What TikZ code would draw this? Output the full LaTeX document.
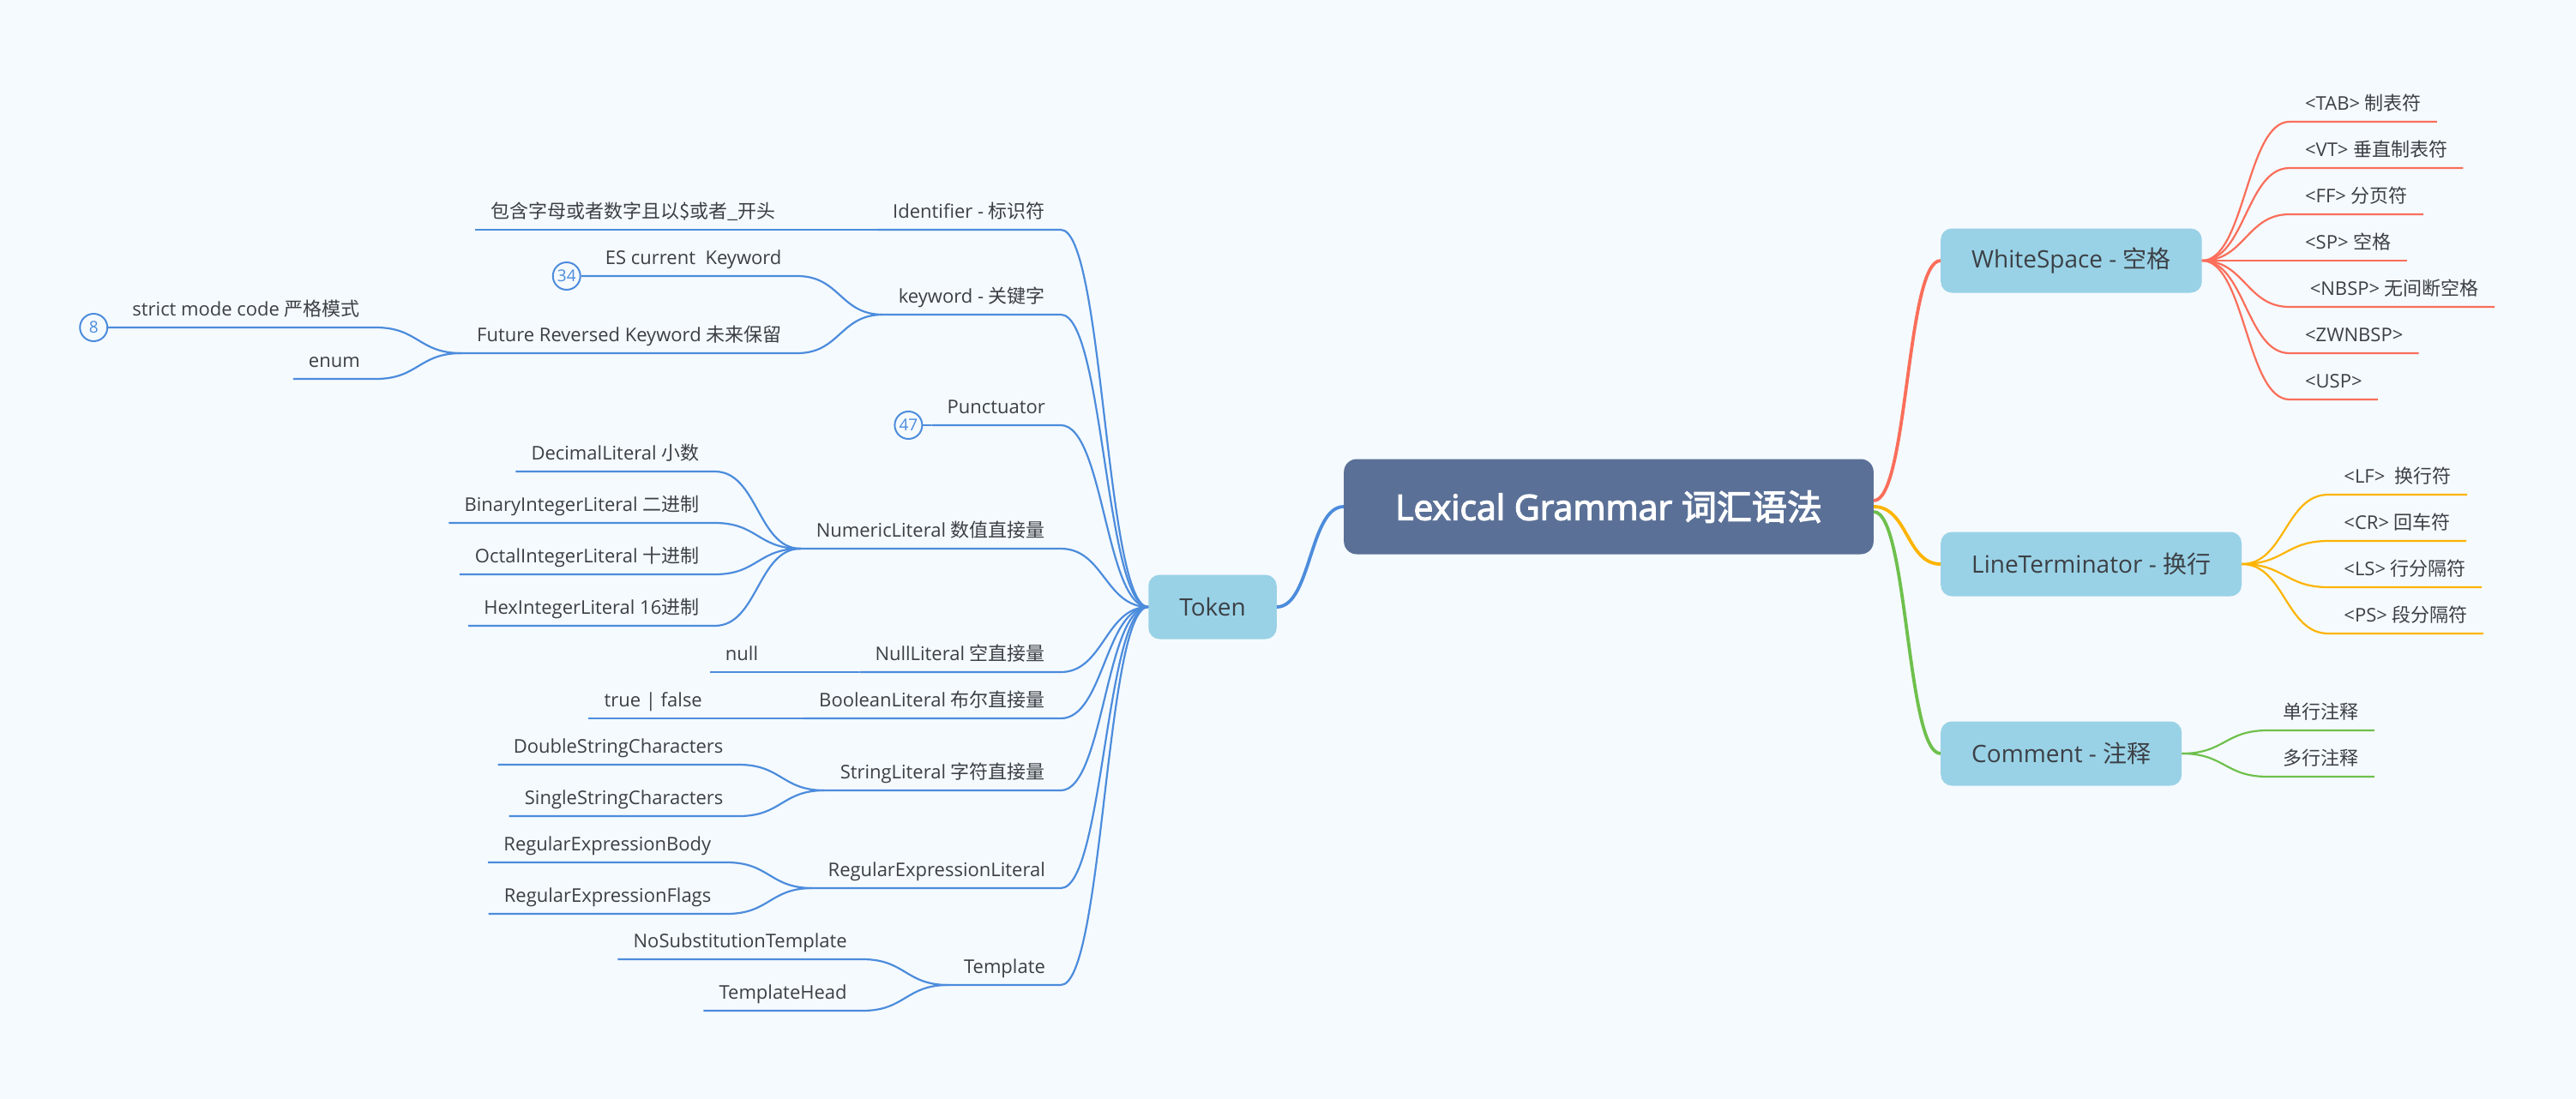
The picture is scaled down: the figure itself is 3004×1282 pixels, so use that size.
\documentclass[tikz,border=0pt]{standalone}
\usepackage{fontspec}
\setmainfont{Open Sans}
\newfontfamily\cjk{Noto Sans CJK SC}
\newfontfamily\rootsans[FakeBold=3]{Open Sans}
\newfontfamily\rootcjk[FakeBold=3]{Noto Sans CJK SC}
\usepackage{tikz}

\definecolor{bgBlue}{RGB}{245, 250, 254}
\definecolor{rootFill}{RGB}{90, 112, 151}
\definecolor{topicFill}{RGB}{153, 210, 230}
\definecolor{inkGray}{RGB}{60, 64, 70}
\definecolor{linkBlue}{RGB}{76, 140, 220}
\definecolor{linkRed}{RGB}{250, 110, 90}
\definecolor{linkOrange}{RGB}{253, 180, 0}
\definecolor{linkGreen}{RGB}{110, 192, 76}

\newcommand{\hanzi}[1]{{\cjk #1}}
\newcommand{\rootfont}{\fontsize{41}{49}\selectfont}
\newcommand{\topicfont}{\fontsize{28}{34}\selectfont}
\newcommand{\leaffont}{\fontsize{22}{26}\selectfont}
\newcommand{\badgefont}{\fontsize{19}{22}\selectfont}

\tikzstyle{rootbox} = [rectangle, rounded corners=15pt, fill=rootFill, text=white, font=\rootfont\rootsans, inner xsep=60pt, minimum height=111pt]
\tikzstyle{topicbox} = [rectangle, rounded corners=13pt, fill=topicFill, text=inkGray, font=\topicfont, inner xsep=36pt, minimum height=75pt]
\tikzstyle{leafnode} = [font=\leaffont, text=inkGray, inner xsep=18pt, inner ysep=8pt, text height=17pt, text depth=5pt]
\tikzstyle{badge} = [circle, draw=linkBlue, line width=2pt, fill=bgBlue, text=linkBlue, font=\badgefont, minimum size=32pt, inner sep=0pt]
\tikzstyle{mainlink} = [line width=3.8pt]
\tikzstyle{bluelink} = [linkBlue, line width=2.2pt]
\tikzstyle{redlink} = [linkRed, line width=2.2pt]
\tikzstyle{orangelink} = [linkOrange, line width=2.2pt]
\tikzstyle{greenlink} = [linkGreen, line width=2.2pt]

\begin{document}
\begin{tikzpicture}[x=1pt, y=1pt]

\useasboundingbox (0,0) rectangle (3004,-1282);
\fill [bgBlue] (0,0) rectangle (3004,-1282);

\node (lexical) [rootbox] at (1876,-591) {Lexical Grammar {\rootcjk 词汇语法}};

\node (token) [topicbox] at (1414,-708) {Token};
\node (ws) [topicbox, anchor=west] at (2263,-304) {WhiteSpace - \hanzi{空格}};
\node (lt) [topicbox, anchor=west] at (2263,-658) {LineTerminator - \hanzi{换行}};
\node (cm) [topicbox, anchor=west] at (2263,-879) {Comment - \hanzi{注释}};

\draw [mainlink, linkBlue] (lexical.west) .. controls +(-40,0) and +(40,0) .. (token.east);
\draw [mainlink, linkRed] ([yshift=7pt]lexical.east) .. controls +(40,0) and +(-40,0) .. (ws.west);
\draw [mainlink, linkOrange] (lexical.east) .. controls +(40,0) and +(-40,0) .. (lt.west);
\draw [mainlink, linkGreen] ([yshift=-6pt]lexical.east) .. controls +(40,0) and +(-40,0) .. (cm.west);

% WhiteSpace
\node (tab) [leafnode, anchor=south west, xshift=102pt, yshift=162pt] at (ws.east) {<TAB> \hanzi{制表符}};
\node (vt) [leafnode, anchor=south west, xshift=102pt, yshift=108pt] at (ws.east) {<VT> \hanzi{垂直制表符}};
\node (ff) [leafnode, anchor=south west, xshift=102pt, yshift=54pt] at (ws.east) {<FF> \hanzi{分页符}};
\node (sp) [leafnode, anchor=south west, xshift=102pt] at (ws.east) {<SP> \hanzi{空格}};
\node (nbsp) [leafnode, anchor=south west, xshift=102pt, yshift=-54pt] at (ws.east) {~<NBSP> \hanzi{无间断空格}};
\node (zwnbsp) [leafnode, anchor=south west, xshift=102pt, yshift=-108pt] at (ws.east) {<ZWNBSP>};
\node (usp) [leafnode, anchor=south west, xshift=102pt, yshift=-162pt] at (ws.east) {<USP>};

\draw [redlink] (ws.east) .. controls +(50,0) and +(-50,0) .. (tab.south west) -- (tab.south east);
\draw [redlink] (ws.east) .. controls +(50,0) and +(-50,0) .. (vt.south west) -- (vt.south east);
\draw [redlink] (ws.east) .. controls +(50,0) and +(-50,0) .. (ff.south west) -- (ff.south east);
\draw [redlink] (ws.east) -- (sp.south west) -- (sp.south east);
\draw [redlink] (ws.east) .. controls +(50,0) and +(-50,0) .. (nbsp.south west) -- (nbsp.south east);
\draw [redlink] (ws.east) .. controls +(50,0) and +(-50,0) .. (zwnbsp.south west) -- (zwnbsp.south east);
\draw [redlink] (ws.east) .. controls +(50,0) and +(-50,0) .. (usp.south west) -- (usp.south east);

% LineTerminator
\node (lf) [leafnode, anchor=south west, xshift=101pt, yshift=81pt] at (lt.east) {<LF>\ \ \hanzi{换行符}};
\node (cr) [leafnode, anchor=south west, xshift=101pt, yshift=27pt] at (lt.east) {<CR> \hanzi{回车符}};
\node (ls) [leafnode, anchor=south west, xshift=101pt, yshift=-27pt] at (lt.east) {<LS> \hanzi{行分隔符}};
\node (ps) [leafnode, anchor=south west, xshift=101pt, yshift=-81pt] at (lt.east) {<PS> \hanzi{段分隔符}};

\draw [orangelink] (lt.east) .. controls +(50,0) and +(-50,0) .. (lf.south west) -- (lf.south east);
\draw [orangelink] (lt.east) .. controls +(50,0) and +(-50,0) .. (cr.south west) -- (cr.south east);
\draw [orangelink] (lt.east) .. controls +(50,0) and +(-50,0) .. (ls.south west) -- (ls.south east);
\draw [orangelink] (lt.east) .. controls +(50,0) and +(-50,0) .. (ps.south west) -- (ps.south east);

% Comment
\node (single) [leafnode, anchor=south west, xshift=100pt, yshift=27pt] at (cm.east) {\hanzi{单行注释}};
\node (multi) [leafnode, anchor=south west, xshift=100pt, yshift=-27pt] at (cm.east) {\hanzi{多行注释}};

\draw [greenlink] (cm.east) .. controls +(50,0) and +(-50,0) .. (single.south west) -- (single.south east);
\draw [greenlink] (cm.east) .. controls +(50,0) and +(-50,0) .. (multi.south west) -- (multi.south east);

% Token
\node (ident) [leafnode, anchor=south east, xshift=-102pt, yshift=440pt] at (token.west) {Identifier - \hanzi{标识符}};
\node (kw) [leafnode, anchor=south east, xshift=-102pt, yshift=341pt] at (token.west) {keyword - \hanzi{关键字}};
\node (punct) [leafnode, anchor=south east, xshift=-102pt, yshift=212pt] at (token.west) {Punctuator};
\node (numeric) [leafnode, anchor=south east, xshift=-102pt, yshift=68pt] at (token.west) {NumericLiteral \hanzi{数值直接量}};
\node (nulllit) [leafnode, anchor=south east, xshift=-102pt, yshift=-76pt] at (token.west) {NullLiteral \hanzi{空直接量}};
\node (boollit) [leafnode, anchor=south east, xshift=-102pt, yshift=-130pt] at (token.west) {BooleanLiteral \hanzi{布尔直接量}};
\node (strlit) [leafnode, anchor=south east, xshift=-102pt, yshift=-214pt] at (token.west) {StringLiteral \hanzi{字符直接量}};
\node (regex) [leafnode, anchor=south east, xshift=-102pt, yshift=-328pt] at (token.west) {RegularExpressionLiteral};
\node (tmpl) [leafnode, anchor=south east, xshift=-102pt, yshift=-441pt] at (token.west) {Template};

\draw [bluelink] (token.west) .. controls +(-50,0) and +(50,0) .. (ident.south east) -- (ident.south west);
\draw [bluelink] (token.west) .. controls +(-50,0) and +(50,0) .. (kw.south east) -- (kw.south west);
\draw [bluelink] (token.west) .. controls +(-50,0) and +(50,0) .. (punct.south east) -- (punct.south west);
\draw [bluelink] (token.west) .. controls +(-50,0) and +(50,0) .. (numeric.south east) -- (numeric.south west);
\draw [bluelink] (token.west) .. controls +(-50,0) and +(50,0) .. (nulllit.south east) -- (nulllit.south west);
\draw [bluelink] (token.west) .. controls +(-50,0) and +(50,0) .. (boollit.south east) -- (boollit.south west);
\draw [bluelink] (token.west) .. controls +(-50,0) and +(50,0) .. (strlit.south east) -- (strlit.south west);
\draw [bluelink] (token.west) .. controls +(-50,0) and +(50,0) .. (regex.south east) -- (regex.south west);
\draw [bluelink] (token.west) .. controls +(-50,0) and +(50,0) .. (tmpl.south east) -- (tmpl.south west);

% Identifier, keyword, Punctuator
\node (identtxt) [leafnode, anchor=south east, xshift=-100pt] at (ident.south west) {\hanzi{包含字母或者数字且以\$或者\_开头}};
\node (escur) [leafnode, anchor=south east, xshift=-100pt, yshift=45pt] at (kw.south west) {ES current\ \ Keyword};
\node (future) [leafnode, anchor=south east, xshift=-100pt, yshift=-45pt] at (kw.south west) {Future Reversed Keyword \hanzi{未来保留}};
\node (strict) [leafnode, anchor=south east, xshift=-100pt, yshift=30pt] at (future.south west) {strict mode code \hanzi{严格模式}};
\node (enum) [leafnode, anchor=south east, xshift=-100pt, yshift=-30pt] at (future.south west) {enum};
\node (b34) [badge, anchor=east, xshift=-10pt] at (escur.south west) {34};
\node (b8) [badge, anchor=east, xshift=-10pt] at (strict.south west) {8};
\node (b47) [badge, anchor=east, xshift=-10pt] at (punct.south west) {47};

\draw [bluelink] (ident.south west) -- (identtxt.south east) -- (identtxt.south west);
\draw [bluelink] (kw.south west) .. controls +(-50,0) and +(50,0) .. (escur.south east) -- (b34.east);
\draw [bluelink] (kw.south west) .. controls +(-50,0) and +(50,0) .. (future.south east) -- (future.south west);
\draw [bluelink] (future.south west) .. controls +(-50,0) and +(50,0) .. (strict.south east) -- (b8.east);
\draw [bluelink] (future.south west) .. controls +(-50,0) and +(50,0) .. (enum.south east) -- (enum.south west);
\draw [bluelink] (punct.south west) -- (b47.east);

% literals
\node (decimal) [leafnode, anchor=south east, xshift=-100pt, yshift=90pt] at (numeric.south west) {DecimalLiteral \hanzi{小数}};
\node (binary) [leafnode, anchor=south east, xshift=-100pt, yshift=30pt] at (numeric.south west) {BinaryIntegerLiteral \hanzi{二进制}};
\node (octal) [leafnode, anchor=south east, xshift=-100pt, yshift=-30pt] at (numeric.south west) {OctalIntegerLiteral \hanzi{十进制}};
\node (hex) [leafnode, anchor=south east, xshift=-100pt, yshift=-90pt] at (numeric.south west) {HexIntegerLiteral 16\hanzi{进制}};
\node (nulltxt) [leafnode, anchor=south east, xshift=-100pt] at (nulllit.south west) {null};
\node (booltxt) [leafnode, anchor=south east, xshift=-100pt] at (boollit.south west) {true | false};
\node (dstr) [leafnode, anchor=south east, xshift=-100pt, yshift=30pt] at (strlit.south west) {DoubleStringCharacters};
\node (sstr) [leafnode, anchor=south east, xshift=-100pt, yshift=-30pt] at (strlit.south west) {SingleStringCharacters};
\node (rebody) [leafnode, anchor=south east, xshift=-100pt, yshift=30pt] at (regex.south west) {RegularExpressionBody};
\node (reflags) [leafnode, anchor=south east, xshift=-100pt, yshift=-30pt] at (regex.south west) {RegularExpressionFlags};
\node (nosub) [leafnode, anchor=south east, xshift=-100pt, yshift=30pt] at (tmpl.south west) {NoSubstitutionTemplate};
\node (thead) [leafnode, anchor=south east, xshift=-100pt, yshift=-30pt] at (tmpl.south west) {TemplateHead};

\draw [bluelink] (numeric.south west) .. controls +(-50,0) and +(50,0) .. (decimal.south east) -- (decimal.south west);
\draw [bluelink] (numeric.south west) .. controls +(-50,0) and +(50,0) .. (binary.south east) -- (binary.south west);
\draw [bluelink] (numeric.south west) .. controls +(-50,0) and +(50,0) .. (octal.south east) -- (octal.south west);
\draw [bluelink] (numeric.south west) .. controls +(-50,0) and +(50,0) .. (hex.south east) -- (hex.south west);
\draw [bluelink] (nulllit.south west) -- (nulltxt.south east) -- (nulltxt.south west);
\draw [bluelink] (boollit.south west) -- (booltxt.south east) -- (booltxt.south west);
\draw [bluelink] (strlit.south west) .. controls +(-50,0) and +(50,0) .. (dstr.south east) -- (dstr.south west);
\draw [bluelink] (strlit.south west) .. controls +(-50,0) and +(50,0) .. (sstr.south east) -- (sstr.south west);
\draw [bluelink] (regex.south west) .. controls +(-50,0) and +(50,0) .. (rebody.south east) -- (rebody.south west);
\draw [bluelink] (regex.south west) .. controls +(-50,0) and +(50,0) .. (reflags.south east) -- (reflags.south west);
\draw [bluelink] (tmpl.south west) .. controls +(-50,0) and +(50,0) .. (nosub.south east) -- (nosub.south west);
\draw [bluelink] (tmpl.south west) .. controls +(-50,0) and +(50,0) .. (thead.south east) -- (thead.south west);

\end{tikzpicture}
\end{document}
